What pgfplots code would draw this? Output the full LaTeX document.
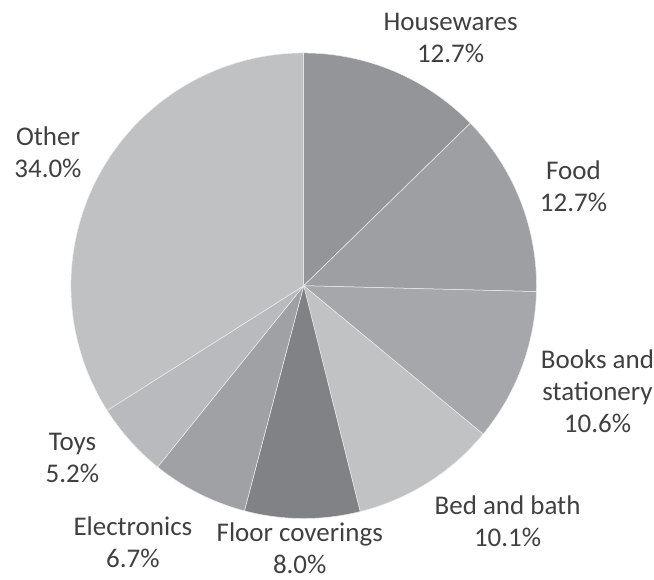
\documentclass[border=0pt]{standalone}
\usepackage{pgfplots}
\usepackage{pgfplotstable}
\usepackage{fontspec}
\setmainfont{Carlito}
\pgfplotsset{compat=1.18}

\definecolor{cHouse}{HTML}{939598}
\definecolor{cFood}{HTML}{9E9FA2}
\definecolor{cBooks}{HTML}{A6A7AA}
\definecolor{cBed}{HTML}{C1C2C4}
\definecolor{cFloor}{HTML}{808285}
\definecolor{cElec}{HTML}{A0A1A4}
\definecolor{cToys}{HTML}{B9BABD}
\definecolor{cOther}{HTML}{C0C1C3}
\definecolor{txt}{HTML}{404040}

\tikzset{lbl/.style={font=\fontsize{27}{32}\selectfont, text=txt, align=center, inner sep=0pt}}

% share of sales, clockwise from 12 o'clock
\pgfplotstableread[col sep=comma]{
name,value,color
Housewares,12.7,cHouse
Food,12.7,cFood
Books and stationery,10.6,cBooks
Bed and bath,10.1,cBed
Floor coverings,8.0,cFloor
Electronics,6.7,cElec
Toys,5.2,cToys
Other,34.0,cOther
}\piedata

\begin{document}
\begin{tikzpicture}
\begin{axis}[
    x=1pt, y=1pt,
    xmin=0, xmax=654, ymin=0, ymax=580,
    hide axis,
    clip=false,
]
\path (axis cs:0,0) rectangle (axis cs:654,580);
\pgfmathsetmacro\angstart{90}
\pgfplotstablegetrowsof{\piedata}
\pgfmathtruncatemacro\lastrow{\pgfplotsretval-1}
\pgfplotsforeachungrouped \i in {0,...,\lastrow}{
    \pgfplotstablegetelem{\i}{value}\of\piedata \let\val\pgfplotsretval
    \pgfplotstablegetelem{\i}{color}\of\piedata \let\col\pgfplotsretval
    \pgfmathsetmacro\angend{\angstart-3.6*\val}
    \edef\temp{\noexpand\filldraw[fill=\col, draw=white!85!gray, line width=0.5pt]
        (axis cs:304,294) -- ++(\angstart:233pt)
        arc[start angle=\angstart, end angle=\angend, radius=233pt] -- cycle;}
    \temp
    \let\angstart\angend
}
\node[lbl] at (axis cs:451,542) {Housewares\\12.7\%};
\node[lbl] at (axis cs:574,394) {Food\\12.7\%};
\node[lbl] at (axis cs:598,188) {Books and\\stationery\\10.6\%};
\node[lbl] at (axis cs:508,58) {Bed and bath\\10.1\%};
\node[lbl] at (axis cs:300,31) {Floor coverings\\8.0\%};
\node[lbl] at (axis cs:133,37) {Electronics\\6.7\%};
\node[lbl] at (axis cs:72.5,122) {Toys\\5.2\%};
\node[lbl] at (axis cs:48,428) {Other\\34.0\%};
\end{axis}
\end{tikzpicture}
\end{document}
